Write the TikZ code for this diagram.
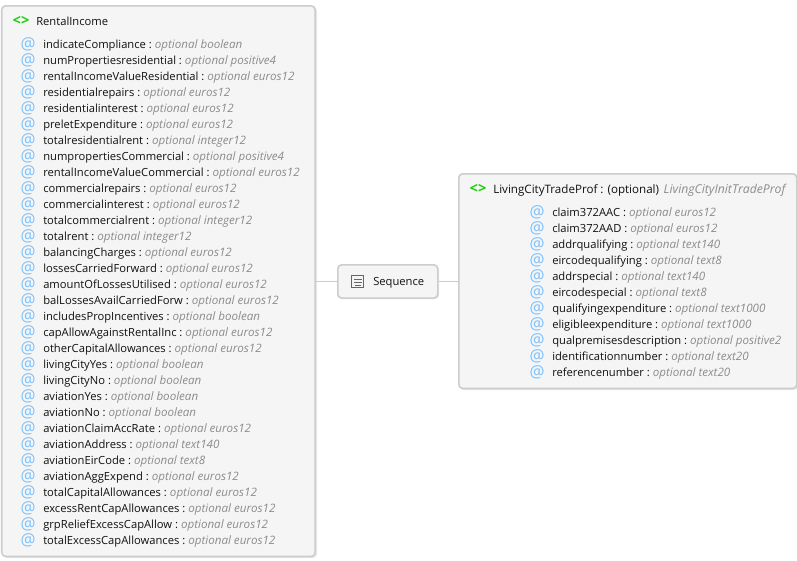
\documentclass[tikz,border=0pt]{standalone}
\usepackage{fontspec}
\setmainfont{Open Sans}
\usetikzlibrary{calc}
\definecolor{boxfill}{HTML}{F5F5F5}
\definecolor{boxline}{HTML}{CDCDCD}
\definecolor{shadowc}{HTML}{E8E8E8}
\definecolor{txt}{HTML}{111111}
\definecolor{typec}{HTML}{8C8C8C}
\definecolor{atc}{HTML}{79C3FF}
\definecolor{greenc}{HTML}{1FCC0E}
\definecolor{connc}{HTML}{CCCCCC}
\tikzset{x=0.75pt,y=-0.75pt,
  panel/.style={draw=boxline,fill=boxfill,line width=1.2pt,rounded corners=3pt,inner sep=0},
  rowtext/.style={anchor=west,inner sep=0,font=\fontsize{8.4}{10}\selectfont,text=txt,text height=7pt,text depth=2pt},
  attext/.style={anchor=center,inner sep=0,font=\fontsize{12.5}{14}\selectfont,text=atc},
  tagtext/.style={anchor=center,inner sep=0,font=\fontsize{11}{12}\selectfont\bfseries,text=greenc},
  conn/.style={draw=connc,line width=1.2pt}}
\newcommand{\opt}[1]{{\fontsize{8.7}{10}\selectfont\itshape\color{typec}\ optional #1}}
\newcommand{\attrow}[5]{% name, icon x, text x, y, content
  \node[attext] (#1i) at (#2,#4+0.5) {@};
  \node[rowtext] (#1) at (#3,#4+1) {#5};}
\begin{document}
\begin{tikzpicture}
\useasboundingbox (0,0) rectangle (797,561);
\fill[white] (0,0) rectangle (797,561);
% shadows
\fill[shadowc,rounded corners=3pt] (3,7) rectangle (317,558);
\fill[shadowc,rounded corners=3pt] (460,175) rectangle (798,390);
\fill[shadowc,rounded corners=3pt] (339,266) rectangle (439,299);
% panels
\node[panel,anchor=north west,minimum width=235pt,minimum height=413pt] (rental) at (1,5) {};
\node[panel,anchor=north west,minimum width=253.5pt,minimum height=161pt] (living) at (458,173) {};
\node[panel,anchor=north west,minimum width=75pt,minimum height=25pt] (seq) at (337,264) {};
\draw[conn] (rental.east |- seq.west) -- (seq.west);
\draw[conn] (seq.east) -- (living.west |- seq.east);
% sequence icon
\node[draw=black!60,fill=boxfill,line width=0.7pt,minimum width=8.6pt,minimum height=9pt,inner sep=0] (seqicon) at (357.5,281) {};
\draw[black!60,line width=0.6pt] ($(seqicon.center)+(-4,-2)$) -- ++(8,0) ($(seqicon.center)+(-4,1)$) -- ++(8,0) ($(seqicon.center)+(-3,4)$) -- ++(6,0);
\node[rowtext] (seqlabel) at (373,282) {Sequence};
% headers
\node[tagtext] (tag1) at (21,21) {<>};
\node[rowtext] (head1) at (36,22) {RentalIncome};
\node[tagtext] (tag2) at (478,189) {<>};
\node[rowtext,font=\fontsize{8.7}{10}\selectfont] (head2) at (493,190) {LivingCityTradeProf : (optional)\hspace{1.2pt} {\fontsize{9.15}{10}\selectfont\itshape\color{typec}LivingCityInitTradeProf}};
% left rows
\attrow{a1}{28}{43}{44}{indicateCompliance :\opt{boolean}}
\attrow{a2}{28}{43}{60}{numPropertiesresidential :\opt{positive4}}
\attrow{a3}{28}{43}{76}{rentalIncomeValueResidential :\opt{euros12}}
\attrow{a4}{28}{43}{92}{residentialrepairs :\opt{euros12}}
\attrow{a5}{28}{43}{108}{residentialinterest :\opt{euros12}}
\attrow{a6}{28}{43}{124}{preletExpenditure :\opt{euros12}}
\attrow{a7}{28}{43}{140}{totalresidentialrent :\opt{integer12}}
\attrow{a8}{28}{43}{156}{numpropertiesCommercial :\opt{positive4}}
\attrow{a9}{28}{43}{172}{rentalIncomeValueCommercial :\opt{euros12}}
\attrow{a10}{28}{43}{188}{commercialrepairs :\opt{euros12}}
\attrow{a11}{28}{43}{204}{commercialinterest :\opt{euros12}}
\attrow{a12}{28}{43}{220}{totalcommercialrent :\opt{integer12}}
\attrow{a13}{28}{43}{236}{totalrent :\opt{integer12}}
\attrow{a14}{28}{43}{252}{balancingCharges :\opt{euros12}}
\attrow{a15}{28}{43}{268}{lossesCarriedForward :\opt{euros12}}
\attrow{a16}{28}{43}{284}{amountOfLossesUtilised :\opt{euros12}}
\attrow{a17}{28}{43}{300}{balLossesAvailCarriedForw :\opt{euros12}}
\attrow{a18}{28}{43}{316}{includesPropIncentives :\opt{boolean}}
\attrow{a19}{28}{43}{332}{capAllowAgainstRentalInc :\opt{euros12}}
\attrow{a20}{28}{43}{348}{otherCapitalAllowances :\opt{euros12}}
\attrow{a21}{28}{43}{364}{livingCityYes :\opt{boolean}}
\attrow{a22}{28}{43}{380}{livingCityNo :\opt{boolean}}
\attrow{a23}{28}{43}{396}{aviationYes :\opt{boolean}}
\attrow{a24}{28}{43}{412}{aviationNo :\opt{boolean}}
\attrow{a25}{28}{43}{428}{aviationClaimAccRate :\opt{euros12}}
\attrow{a26}{28}{43}{444}{aviationAddress :\opt{text140}}
\attrow{a27}{28}{43}{460}{aviationEirCode :\opt{text8}}
\attrow{a28}{28}{43}{476}{aviationAggExpend :\opt{euros12}}
\attrow{a29}{28}{43}{492}{totalCapitalAllowances :\opt{euros12}}
\attrow{a30}{28}{43}{508}{excessRentCapAllowances :\opt{euros12}}
\attrow{a31}{28}{43}{524}{grpReliefExcessCapAllow :\opt{euros12}}
\attrow{a32}{28}{43}{540}{totalExcessCapAllowances :\opt{euros12}}
% right rows
\attrow{b1}{537}{552}{212}{claim372AAC :\opt{euros12}}
\attrow{b2}{537}{552}{228}{claim372AAD :\opt{euros12}}
\attrow{b3}{537}{552}{244}{addrqualifying :\opt{text140}}
\attrow{b4}{537}{552}{260}{eircodequalifying :\opt{text8}}
\attrow{b5}{537}{552}{276}{addrspecial :\opt{text140}}
\attrow{b6}{537}{552}{292}{eircodespecial :\opt{text8}}
\attrow{b7}{537}{552}{308}{qualifyingexpenditure :\opt{text1000}}
\attrow{b8}{537}{552}{324}{eligibleexpenditure :\opt{text1000}}
\attrow{b9}{537}{552}{340}{qualpremisesdescription :\opt{positive2}}
\attrow{b10}{537}{552}{356}{identificationnumber :\opt{text20}}
\attrow{b11}{537}{552}{372}{referencenumber :\opt{text20}}
\end{tikzpicture}
\end{document}
